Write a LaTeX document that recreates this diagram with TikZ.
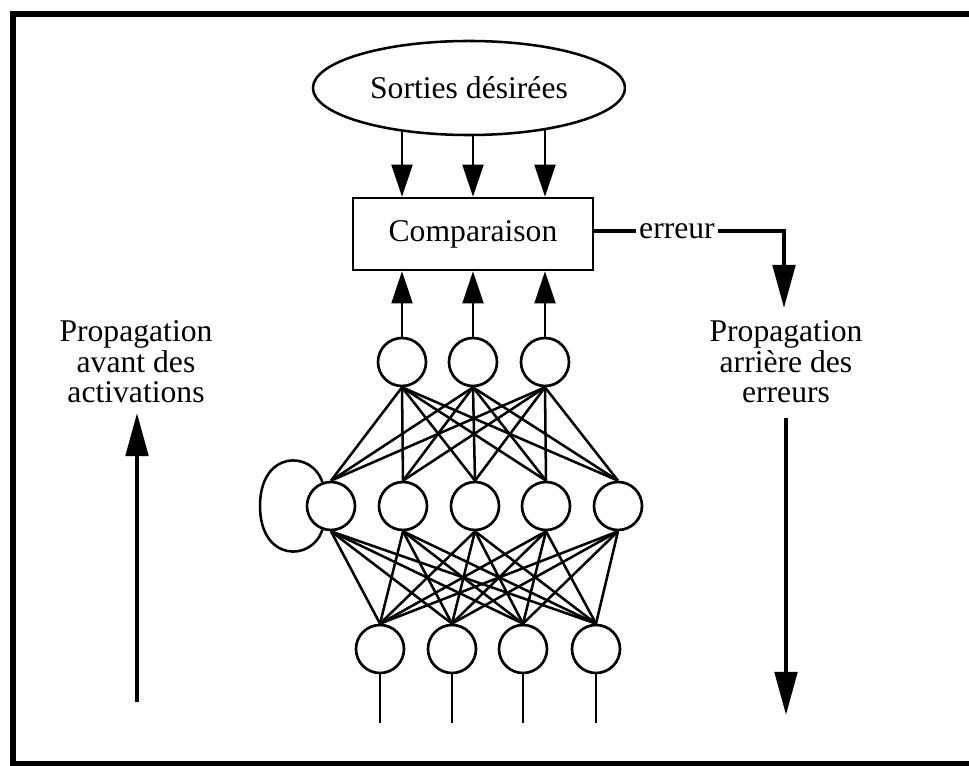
\documentclass[tikz,border=0pt]{standalone}
\usepackage{fontspec}
\setmainfont{Liberation Serif}
\usetikzlibrary{arrows.meta,shapes.geometric}
\tikzset{
  neurone/.style={draw,circle,minimum size=1.2cm,inner sep=0pt,line width=1.9pt},
  lien/.style={line width=1.8pt},
  fleche/.style={line width=1.8pt,-{Triangle[width=0.52cm,length=0.8cm]}},
  grosse/.style={line width=2.9pt,-{Triangle[width=0.56cm,length=1.08cm]}},
  texte/.style={font=\fontsize{22.5}{21.7}\selectfont,align=center,inner sep=2pt}
}
\begin{document}
\begin{tikzpicture}[x=0.025cm,y=-0.025cm]
  \useasboundingbox (0,0) rectangle (969,766);
  % cadre
  \draw[line width=3.8pt] (969,14) -- (13,14) -- (13,764) -- (969,764);
  % couches du reseau
  \foreach \x [count=\i] in {402,473,545}
    \node[neurone] (t\i) at (\x,362) {};
  \foreach \x [count=\i] in {331,403,475,546,618}
    \node[neurone] (m\i) at (\x,506) {};
  \foreach \x [count=\i] in {380,452,523,596} {
    \node[neurone] (b\i) at (\x,649) {};
    \coordinate (e\i) at (\x,723);
  }
  \foreach \i in {1,2,3} \foreach \j in {1,...,5}
    \draw[lien] (t\i.south) -- (m\j.north);
  \foreach \i in {1,...,5} \foreach \j in {1,...,4}
    \draw[lien] (m\i.south) -- (b\j.north);
  \foreach \j in {1,...,4}
    \draw[lien] (b\j.south) -- (e\j);
  % boucle
  \draw[lien] (m1.110) .. controls (312,450) and (260,450) .. (260,506)
    .. controls (260,562) and (312,562) .. (m1.250);
  % sorties et comparaison
  \coordinate (hd) at (469,88);
  \node[draw,line width=1.8pt,minimum width=6cm,minimum height=1.8cm,texte] (comp) at (473,234) {Comparaison};
  \foreach \i in {1,2,3} {
    \draw[fleche] (t\i |- hd) -- (t\i |- comp.north);
    \draw[fleche] (t\i.north) -- (t\i |- comp.south);
  }
  \node[draw,ellipse,fill=white,line width=1.8pt,minimum width=7.8cm,minimum height=2.35cm,texte] (des) at (hd) {Sorties désirées};
  \node[texte] (err) at (677,231) {erreur};
  \coordinate (errbas) at (784,308);
  \draw[line width=2.9pt] (comp.east |- err) -- (err.west);
  \draw[grosse] (err.east) -| (errbas);
  % propagations
  \node[texte] (avant) at (136,362) {Propagation\\avant des\\activations};
  \node[texte] (arriere) at (786,362) {Propagation\\arrière des\\erreurs};
  \coordinate (a0) at (137,702);
  \coordinate (a1) at (137,413);
  \coordinate (r0) at (786,418);
  \coordinate (r1) at (786,715);
  \draw[grosse] (a0) -- (a1);
  \draw[grosse] (r0) -- (r1);
\end{tikzpicture}
\end{document}
